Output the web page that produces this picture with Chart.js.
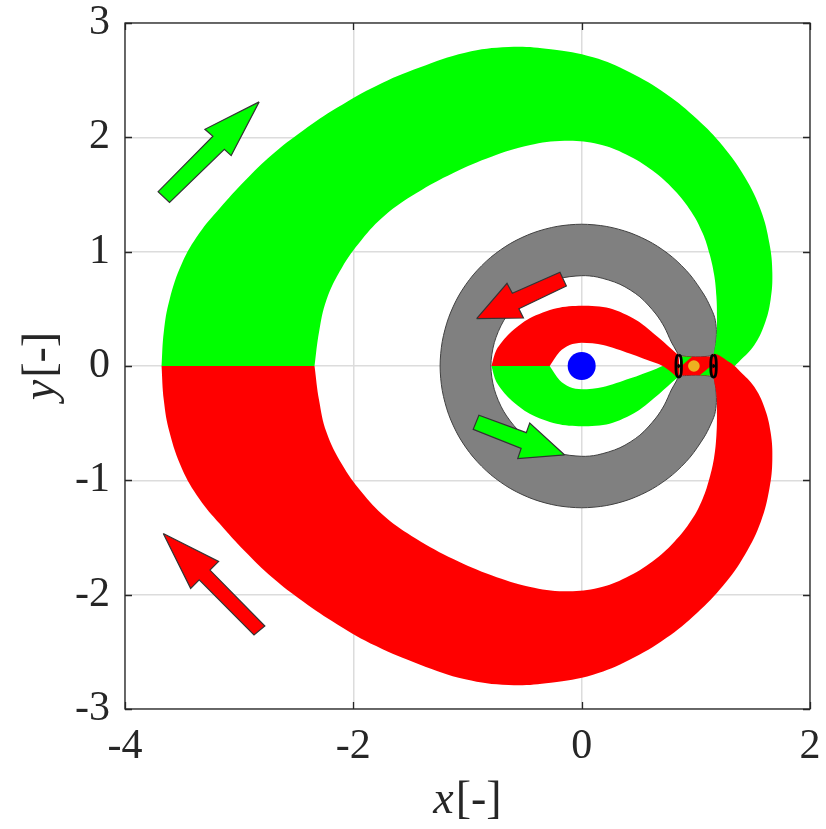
<!DOCTYPE html>
<html>
<head>
<meta charset="utf-8">
<script src="https://cdn.jsdelivr.net/npm/chart.js@4.4.1/dist/chart.umd.min.js"></script>
<style>
  html, body { margin: 0; padding: 0; background: #ffffff; }
  canvas { display: block; }
</style>
</head>
<body>
<canvas id="c" width="826" height="829"></canvas>
<script>
// ---- axes ----
const xTicks = [-4, -2, 0, 2];
const yTicks = [-3, -2, -1, 0, 1, 2, 3];
const xTitle = ['x', '[-]'];
const yTitle = ['y', '[-]'];

// ---- exterior tubes (L2 side) ----
const extGreenOuter = [[-3.68,0],[-3.66,0.30],[-3.61,0.58],[-3.50,0.90],[-3.35,1.16],[-3.17,1.38],[-2.95,1.62],[-2.71,1.85],[-2.44,2.06],[-2.14,2.26],[-1.80,2.45],[-1.42,2.61],[-1.02,2.74],[-0.64,2.79],[-0.27,2.77],[0.10,2.70],[0.42,2.57],[0.74,2.38],[1.01,2.16],[1.24,1.92],[1.43,1.65],[1.57,1.36],[1.645,1.07],[1.67,0.82],[1.655,0.58],[1.60,0.36],[1.51,0.18],[1.39,0.05],[1.30,-0.03]];
const extGreenInner = [[-2.34,0],[-2.30,0.30],[-2.235,0.58],[-2.10,0.86],[-1.93,1.10],[-1.72,1.32],[-1.45,1.51],[-1.12,1.69],[-0.79,1.83],[-0.46,1.93],[-0.15,1.97],[0.15,1.94],[0.39,1.85],[0.62,1.71],[0.81,1.54],[0.96,1.35],[1.06,1.16],[1.12,0.98],[1.16,0.80],[1.18,0.61],[1.185,0.43],[1.18,0.25],[1.155,0.105]];
const extGreenEnd = [[1.155,-0.105],[1.13,0]];

const extRedOuter = [[-3.68,0],[-3.66,-0.30],[-3.61,-0.58],[-3.50,-0.90],[-3.35,-1.16],[-3.17,-1.38],[-2.95,-1.62],[-2.71,-1.85],[-2.44,-2.06],[-2.14,-2.26],[-1.80,-2.45],[-1.42,-2.61],[-1.02,-2.74],[-0.64,-2.79],[-0.27,-2.77],[0.10,-2.70],[0.42,-2.57],[0.74,-2.38],[1.01,-2.16],[1.24,-1.92],[1.43,-1.65],[1.57,-1.36],[1.645,-1.07],[1.67,-0.82],[1.655,-0.58],[1.60,-0.36],[1.51,-0.18],[1.39,-0.05],[1.30,0.03]];
const extRedInner = [[-2.34,0],[-2.30,-0.30],[-2.235,-0.58],[-2.10,-0.86],[-1.93,-1.10],[-1.72,-1.32],[-1.45,-1.51],[-1.12,-1.69],[-0.79,-1.83],[-0.46,-1.93],[-0.15,-1.97],[0.15,-1.94],[0.39,-1.85],[0.62,-1.71],[0.81,-1.54],[0.96,-1.35],[1.06,-1.16],[1.12,-0.98],[1.16,-0.80],[1.18,-0.61],[1.185,-0.43],[1.18,-0.25],[1.155,-0.105]];
const extRedEnd = [[1.155,0.105],[1.13,0]];

// ---- interior lobes (L1 side) ----
const intRedOuter = [[-0.79,0],[-0.747,0.14],[-0.63,0.286],[-0.455,0.417],[-0.22,0.505],[0,0.527],[0.245,0.505],[0.48,0.40],[0.683,0.24],[0.83,0.11],[0.848,0.10],[0.85,-0.10],[0.78,-0.05],[0.71,0]];
const intRedInner = [[-0.28,0],[-0.193,0.125],[-0.105,0.184],[0,0.204],[0.187,0.184],[0.42,0.11],[0.655,0.023],[0.71,0]];
const intGreenOuter = [[-0.79,0],[-0.747,-0.14],[-0.63,-0.286],[-0.455,-0.417],[-0.22,-0.505],[0,-0.527],[0.245,-0.505],[0.48,-0.40],[0.683,-0.24],[0.83,-0.11],[0.848,-0.10],[0.85,0.02],[0.71,0]];
const intGreenInner = [[-0.28,0],[-0.193,-0.125],[-0.105,-0.184],[0,-0.204],[0.187,-0.184],[0.42,-0.11],[0.655,-0.023],[0.71,0]];

// ---- forbidden region (zero-velocity boundary) ----
const neckTop = [[0.85,0.092],[0.92,0.083],[1.0,0.080],[1.08,0.083],[1.155,0.098]];
const hillOuter = [[1.155,0.098],[1.17,0.16],[1.178,0.23],[1.18,0.32],[1.165,0.424],[1.124,0.524],[1.074,0.62],[0.95,0.797],[0.797,0.95],[0.62,1.074],[0.424,1.165],[0.215,1.221],[0,1.24],[-0.215,1.221],[-0.424,1.165],[-0.62,1.074],[-0.797,0.95],[-0.95,0.797],[-1.074,0.62],[-1.165,0.424],[-1.221,0.215],[-1.24,0],[-1.221,-0.215],[-1.165,-0.424],[-1.074,-0.62],[-0.95,-0.797],[-0.797,-0.95],[-0.62,-1.074],[-0.424,-1.165],[-0.215,-1.221],[0,-1.24],[0.215,-1.221],[0.424,-1.165],[0.62,-1.074],[0.797,-0.95],[0.95,-0.797],[1.074,-0.62],[1.124,-0.524],[1.165,-0.424],[1.18,-0.32],[1.178,-0.23],[1.17,-0.16],[1.155,-0.098]];
const neckBottom = [[1.155,-0.098],[1.08,-0.083],[1.0,-0.080],[0.92,-0.083],[0.85,-0.092]];
const hillInner = [[0.85,-0.092],[0.83,-0.13],[0.785,-0.21],[0.725,-0.34],[0.65,-0.455],[0.51,-0.605],[0.335,-0.715],[0.137,-0.778],[0,-0.79],[-0.205,-0.763],[-0.395,-0.684],[-0.559,-0.559],[-0.684,-0.395],[-0.765,-0.205],[-0.795,0],[-0.765,0.205],[-0.684,0.395],[-0.559,0.559],[-0.395,0.684],[-0.205,0.763],[0,0.79],[0.137,0.778],[0.335,0.715],[0.51,0.605],[0.65,0.455],[0.725,0.34],[0.785,0.21],[0.83,0.13],[0.85,0.092]];

// ---- neck crossing ----
const neckRed = [[0.874,0.083],[1.0,0.080],[1.133,0.083],[1.133,-0.083],[1.0,-0.080],[0.874,-0.083]];
const neckGreenA = [[0.874,0.083],[0.965,0.081],[0.874,0.0]];
const neckGreenB = [[1.133,-0.083],[1.035,-0.081],[1.133,0.0]];

// ---- Lyapunov orbits ----
const orbitL1 = [[0.85,0.097],[0.864,0.088],[0.872,0.055],[0.874,0],[0.872,-0.055],[0.864,-0.088],[0.85,-0.097],[0.836,-0.088],[0.828,-0.055],[0.826,0],[0.828,0.055],[0.836,0.088],[0.85,0.097]];
const orbitL2 = [[1.155,0.097],[1.169,0.088],[1.177,0.055],[1.179,0],[1.177,-0.055],[1.169,-0.088],[1.155,-0.097],[1.141,-0.088],[1.133,-0.055],[1.131,0],[1.133,0.055],[1.141,0.088],[1.155,0.097]];
const orbitL1Axis = [[0.827,0],[0.873,0]];
const orbitL2Axis = [[1.132,0],[1.178,0]];
const orbitMarks = [[0.854,0],[1.159,0]];

// ---- direction arrows ----
const arrowGreenOuter = [[-2.825,2.31],[-3.30,2.07],[-3.23,2.01],[-3.71,1.525],[-3.61,1.43],[-3.13,1.895],[-3.07,1.84],[-2.825,2.31]];
const arrowRedOuter = [[-3.665,-1.465],[-3.18,-1.71],[-3.256,-1.785],[-2.775,-2.274],[-2.87,-2.353],[-3.35,-1.87],[-3.425,-1.945],[-3.665,-1.465]];
const arrowRedInner = [[-0.92,0.415],[-0.51,0.42],[-0.55,0.50],[-0.134,0.70],[-0.19,0.82],[-0.607,0.636],[-0.654,0.723],[-0.92,0.415]];
const arrowGreenInner = [[-0.149,-0.778],[-0.455,-0.50],[-0.485,-0.583],[-0.90,-0.43],[-0.95,-0.554],[-0.53,-0.72],[-0.56,-0.81],[-0.149,-0.778]];

// ---- primaries ----
const primary = [[0, 0]];
const secondary = [[0.983, 0]];

// ---------------------------------------------------------------
const pts = a => a.map(([x, y]) => ({x, y}));
const rev = a => a.slice().reverse();

function shape(data, color, opts = {}) {
  return Object.assign({
    data: pts(data), showLine: true, fill: 'shape',
    backgroundColor: color, borderColor: color, borderWidth: 0,
    pointRadius: 0, tension: 0.4
  }, opts);
}

const hillRegion = [...neckTop, ...hillOuter.slice(1), ...neckBottom.slice(1), ...hillInner.slice(1)];

// listed bottom layer first
const layers = [
  shape(hillRegion, '#808080', {borderColor: '#404040', borderWidth: 1, tension: 0.3}),
  shape([...extGreenOuter, ...extGreenEnd, ...rev(extGreenInner)], '#00ff00'),
  shape([...extRedOuter, ...extRedEnd, ...rev(extRedInner)], '#ff0000'),
  shape([...intGreenOuter, ...rev(intGreenInner).slice(1)], '#00ff00', {tension: 0.3}),
  shape([...intRedOuter, ...rev(intRedInner).slice(1)], '#ff0000', {tension: 0.3}),
  shape(neckRed, '#ff0000', {tension: 0}),
  shape(neckGreenA, '#00ff00', {tension: 0}),
  shape(neckGreenB, '#00ff00', {tension: 0}),
  shape(arrowGreenOuter, '#00ff00', {borderColor: '#333333', borderWidth: 1.2, tension: 0}),
  shape(arrowRedOuter, '#ff0000', {borderColor: '#333333', borderWidth: 1.2, tension: 0}),
  shape(arrowRedInner, '#ff0000', {borderColor: '#333333', borderWidth: 1.2, tension: 0}),
  shape(arrowGreenInner, '#00ff00', {borderColor: '#333333', borderWidth: 1.2, tension: 0}),
  {data: pts(orbitL1), showLine: true, fill: false, borderColor: '#000000', borderWidth: 2.8, pointRadius: 0, tension: 0.4},
  {data: pts(orbitL2), showLine: true, fill: false, borderColor: '#000000', borderWidth: 2.8, pointRadius: 0, tension: 0.4},
  {data: pts(orbitL1Axis), showLine: true, fill: false, borderColor: '#000000', borderWidth: 1.3, pointRadius: 0},
  {data: pts(orbitL2Axis), showLine: true, fill: false, borderColor: '#000000', borderWidth: 1.3, pointRadius: 0},
  {data: pts(orbitMarks), showLine: false, pointStyle: 'triangle', rotation: 90, pointRadius: 3, backgroundColor: '#000000', borderColor: '#000000', borderWidth: 0},
  {data: pts(secondary), showLine: false, pointRadius: 5.8, backgroundColor: '#edb120', borderWidth: 0},
  {data: pts(primary), showLine: false, pointRadius: 14, backgroundColor: '#0000ff', borderWidth: 0}
];
layers.forEach((d, i) => { d.order = layers.length - i; });

const INK = '#262626';
const SERIF = '"Liberation Serif", "Times New Roman", serif';
const TICK_FONT = {family: SERIF, size: 42, lineHeight: 1.2};

const frame = {
  id: 'frame',
  afterDatasetsDraw(chart) {
    const {ctx, chartArea: a, scales: {x, y}} = chart;
    ctx.save();
    ctx.strokeStyle = INK;
    ctx.lineWidth = 1.3;
    ctx.beginPath();
    const len = 7;
    xTicks.forEach(v => {
      const px = Math.round(x.getPixelForValue(v)) + 0.5;
      ctx.moveTo(px, a.bottom); ctx.lineTo(px, a.bottom - len);
      ctx.moveTo(px, a.top); ctx.lineTo(px, a.top + len);
    });
    yTicks.forEach(v => {
      const py = Math.round(y.getPixelForValue(v)) + 0.5;
      ctx.moveTo(a.left, py); ctx.lineTo(a.left + len, py);
      ctx.moveTo(a.right, py); ctx.lineTo(a.right - len, py);
    });
    ctx.stroke();
    ctx.strokeRect(a.left, a.top, a.right - a.left, a.bottom - a.top);
    ctx.restore();
  },
  afterDraw(chart) {
    const {ctx, chartArea: a} = chart;
    const draw = (parts, cx, cy, rot) => {
      const fonts = ['italic 46px ' + SERIF, '46px ' + SERIF];
      ctx.save();
      ctx.translate(cx, cy);
      ctx.rotate(rot);
      ctx.fillStyle = INK;
      ctx.textBaseline = 'alphabetic';
      const widths = parts.map((t, i) => { ctx.font = fonts[i]; return ctx.measureText(t).width; });
      let pos = -(widths[0] + widths[1] + 2) / 2;
      parts.forEach((t, i) => { ctx.font = fonts[i]; ctx.fillText(t, pos, 0); pos += widths[i] + 2; });
      ctx.restore();
    };
    draw(xTitle, (a.left + a.right) / 2, 813, 0);
    draw(yTitle, 54, (a.top + a.bottom) / 2, -Math.PI / 2);
  }
};

new Chart(document.getElementById('c'), {
  type: 'scatter',
  data: {datasets: layers},
  options: {
    responsive: false,
    animation: false,
    events: [],
    layout: {padding: {top: 23, right: 16, left: 0, bottom: 0}},
    plugins: {legend: {display: false}, tooltip: {enabled: false}},
    scales: {
      x: {
        type: 'linear', min: -4, max: 2,
        afterBuildTicks: s => { s.ticks = xTicks.map(v => ({value: v})); },
        afterFit: s => { s.height = 120; s.paddingLeft = 0; s.paddingRight = 0; },
        grid: {color: '#dcdcdc', lineWidth: 1.5, drawTicks: false},
        border: {display: false},
        ticks: {font: TICK_FONT, color: INK, padding: 13, maxRotation: 0, callback: v => String(v)}
      },
      y: {
        type: 'linear', min: -3, max: 3,
        afterBuildTicks: s => { s.ticks = yTicks.map(v => ({value: v})); },
        afterFit: s => { s.width = 125; s.paddingTop = 0; s.paddingBottom = 0; },
        grid: {color: '#dcdcdc', lineWidth: 1.5, drawTicks: false},
        border: {display: false},
        ticks: {font: TICK_FONT, color: INK, padding: 15, callback: v => String(v)}
      }
    }
  },
  plugins: [frame]
});
</script>
</body>
</html>
